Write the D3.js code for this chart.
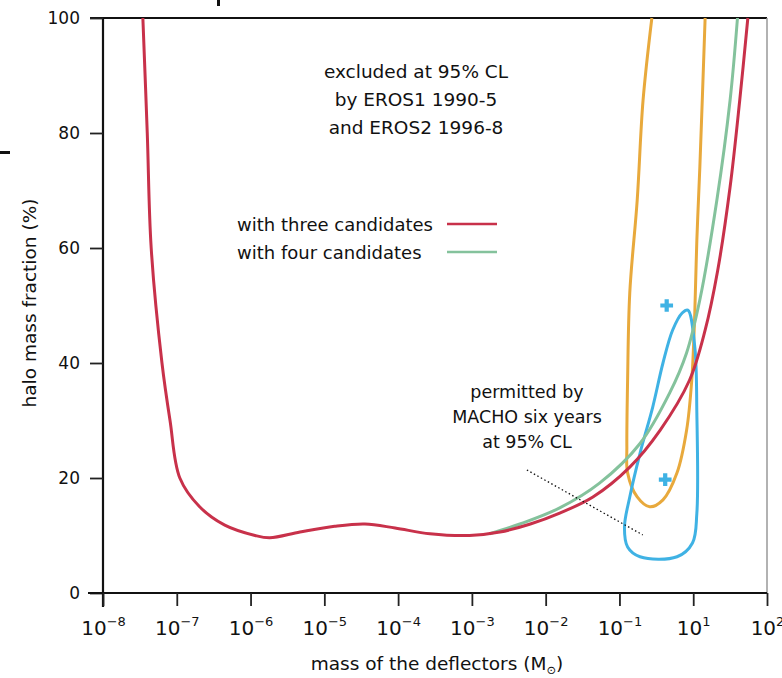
<!DOCTYPE html>
<html>
<head>
<meta charset="utf-8">
<script src="https://cdn.jsdelivr.net/npm/d3@7"></script>
<style>
  html, body { margin: 0; padding: 0; background: #fff; }
  svg { display: block; }
  text { font-family: "DejaVu Sans", sans-serif; fill: #111; }
</style>
</head>
<body>
<svg id="chart" width="782" height="678"></svg>
<script>
// Lens mass (solar masses) and maximal halo fraction (%) of each limit curve
const threeCandMass = [3.47e-8, 3.98e-8, 4.5e-8, 6.3e-8, 8.1e-8, 1.10e-7, 2.04e-7, 4.47e-7, 1.15e-6, 1.82e-6, 4.68e-6, 1.38e-5, 3.55e-5, 9.1e-5, 2.7e-4, 9.3e-4, 2.4e-3, 6.2e-3, 0.0155, 0.0437, 0.138, 0.355, 0.89, 1.45, 2.14, 3.16, 4.27, 5.5];
const threeCandFrac = [100, 80, 60, 40, 30, 20, 15, 11.8, 10, 9.6, 10.6, 11.6, 12, 11.3, 10.3, 10, 10.6, 12, 13.9, 16.7, 21.9, 28.3, 37, 45.7, 56, 70.6, 85.7, 100];

const fourCandMass = [1.74e-3, 4.47e-3, 0.0155, 0.0537, 0.19, 0.48, 0.81, 1.23, 2.09, 3.16, 3.98];
const fourCandFrac = [10.3, 12, 14.8, 19.1, 26, 34.8, 41.7, 51, 68.3, 85.7, 100];

// Second exclusion contour (open at the top)
const orangeMass = [0.275, 0.209, 0.174, 0.138, 0.129, 0.126, 0.129, 0.174, 0.257, 0.389, 0.603, 0.813, 0.955, 1.05, 1.12, 1.23, 1.45];
const orangeFrac = [100, 85.7, 68.3, 52.2, 37, 25.4, 20.9, 16.7, 15, 16.2, 20.9, 28.3, 37, 48.7, 61.4, 74.1, 100];

// MACHO six-year 95% CL allowed region (closed contour)
const machoMass = [0.845, 1.05, 1.12, 1.12, 0.977, 0.603, 0.19, 0.129, 0.117, 0.138, 0.19, 0.282, 0.389, 0.525, 0.708];
const machoFrac = [49.2, 42.8, 31.3, 13.9, 8.7, 6.3, 6.3, 8, 11.5, 16.7, 24.3, 32.3, 40, 45.7, 48.7];

// Best-fit markers
const bestMass = [0.437, 0.417];
const bestFrac = [50, 19.7];

// Axis ticks
const xTickValues = [1e-8, 1e-7, 1e-6, 1e-5, 1e-4, 1e-3, 1e-2, 1e-1, 1, 10];
const xTickExps = ["\u22128", "\u22127", "\u22126", "\u22125", "\u22124", "\u22123", "\u22122", "\u22121", "1", "2"];
const yTickValues = [0, 20, 40, 60, 80, 100];

const svg = d3.select("#chart");

const x = d3.scaleLog().domain([1e-8, 10]).range([103, 767]);
const y = d3.scaleLinear().domain([0, 100]).range([593, 18]);

const zip = (ms, fs) => ms.map((m, i) => [m, fs[i]]);
const line = d3.line().x(d => x(d[0])).y(d => y(d[1])).curve(d3.curveCatmullRom.alpha(0.5));
const loop = d3.line().x(d => x(d[0])).y(d => y(d[1])).curve(d3.curveCatmullRomClosed.alpha(0.5));

// Frame
svg.append("line").attr("x1", 90).attr("x2", x(10)).attr("y1", y(100)).attr("y2", y(100))
  .attr("stroke", "#111").attr("stroke-width", 2);
svg.append("line").attr("x1", x(10)).attr("x2", x(10)).attr("y1", y(100)).attr("y2", y(0))
  .attr("stroke", "#999").attr("stroke-width", 1.5);

// Y axis
const yAxis = svg.append("g").attr("transform", `translate(${x(1e-8)},0)`)
  .call(d3.axisLeft(y).tickValues(yTickValues).tickSize(13).tickFormat(d => String(d)));
yAxis.select(".domain").attr("stroke", "#111").attr("stroke-width", 2.2).attr("d", `M0,${y(100)}V${y(0) + 14}`);
yAxis.selectAll(".tick line").attr("stroke", "#222").attr("stroke-width", 1.8);
yAxis.selectAll(".tick text").attr("x", -23).attr("font-size", 17)
  .style("font-family", "DejaVu Sans, sans-serif").attr("fill", "#111");

// X axis
const xAxis = svg.append("g").attr("transform", `translate(0,${y(0)})`)
  .call(d3.axisBottom(x).tickValues(xTickValues).tickSize(13).tickFormat(() => ""));
xAxis.select(".domain").attr("stroke", "#111").attr("stroke-width", 2.2).attr("d", `M88,0H${x(10)}`);
xAxis.selectAll(".tick line").attr("stroke", "#222").attr("stroke-width", 1.8);
xAxis.selectAll(".tick text").remove();
xAxis.selectAll(".tick").each(function (d, i) {
  const t = d3.select(this).append("text").attr("y", 42).attr("text-anchor", "middle")
    .attr("font-size", 20).attr("fill", "#111");
  t.append("tspan").text("10");
  t.append("tspan").attr("dy", -9).attr("font-size", 13).text(xTickExps[i]);
});

// Axis titles
const xt = svg.append("text").attr("x", 437).attr("y", 670).attr("text-anchor", "middle").attr("font-size", 18.5);
xt.append("tspan").text("mass of the deflectors (M");
xt.append("tspan").attr("font-size", 11.5).attr("dy", 4).text("\u2299");
xt.append("tspan").attr("dy", -4).text(")");
svg.append("text").attr("transform", "translate(36,303) rotate(-90)").attr("text-anchor", "middle")
  .attr("font-size", 18.5).text("halo mass fraction (%)");

// Curves
svg.append("path").attr("d", line(zip(orangeMass, orangeFrac)))
  .attr("fill", "none").attr("stroke", "#e8a93c").attr("stroke-width", 3);
svg.append("path").attr("d", loop(zip(machoMass, machoFrac)))
  .attr("fill", "none").attr("stroke", "#3fb2e4").attr("stroke-width", 3);
svg.append("path").attr("d", line(zip(fourCandMass, fourCandFrac)))
  .attr("fill", "none").attr("stroke", "#84c29c").attr("stroke-width", 3);
svg.append("path").attr("d", line(zip(threeCandMass, threeCandFrac)))
  .attr("fill", "none").attr("stroke", "#c8314a").attr("stroke-width", 3);

// Best-fit crosses
svg.selectAll(".best").data(zip(bestMass, bestFrac)).join("path")
  .attr("transform", d => `translate(${x(d[0])},${y(d[1])})`)
  .attr("d", d3.symbol(d3.symbolCross, 90))
  .attr("fill", "#3fb2e4");

// Annotations
const textBlock = (lines, cx, y0, dy, size) => {
  const t = svg.append("text").attr("text-anchor", "middle").attr("font-size", size);
  lines.forEach((s, i) => t.append("tspan").attr("x", cx).attr("y", y0 + i * dy).text(s));
};
textBlock(["excluded at 95% CL", "by EROS1 1990-5", "and EROS2 1996-8"], 416, 78, 28, 18.5);
textBlock(["permitted by", "MACHO six years", "at 95% CL"], 527, 398, 25, 17.5);

// Leader from the MACHO label to its contour
svg.append("line")
  .attr("x1", x(5.56e-3)).attr("y1", y(21.4)).attr("x2", x(0.207)).attr("y2", y(10.1))
  .attr("stroke", "#111").attr("stroke-width", 1.3).attr("stroke-dasharray", "1.5,2.5");

// Legend
const legend = [["with three candidates", "#c8314a", 231], ["with four candidates", "#84c29c", 259]];
legend.forEach(([label, color, ly]) => {
  svg.append("text").attr("x", 237).attr("y", ly).attr("font-size", 18).text(label);
  svg.append("line").attr("x1", 447).attr("x2", 497).attr("y1", ly - 7).attr("y2", ly - 7)
    .attr("stroke", color).attr("stroke-width", 2.5);
});

// Fragments at the page margin
svg.append("rect").attr("x", 0).attr("y", 151).attr("width", 10).attr("height", 3).attr("fill", "#111");
svg.append("rect").attr("x", 217).attr("y", 0).attr("width", 3).attr("height", 6).attr("fill", "#111");
</script>
</body>
</html>
